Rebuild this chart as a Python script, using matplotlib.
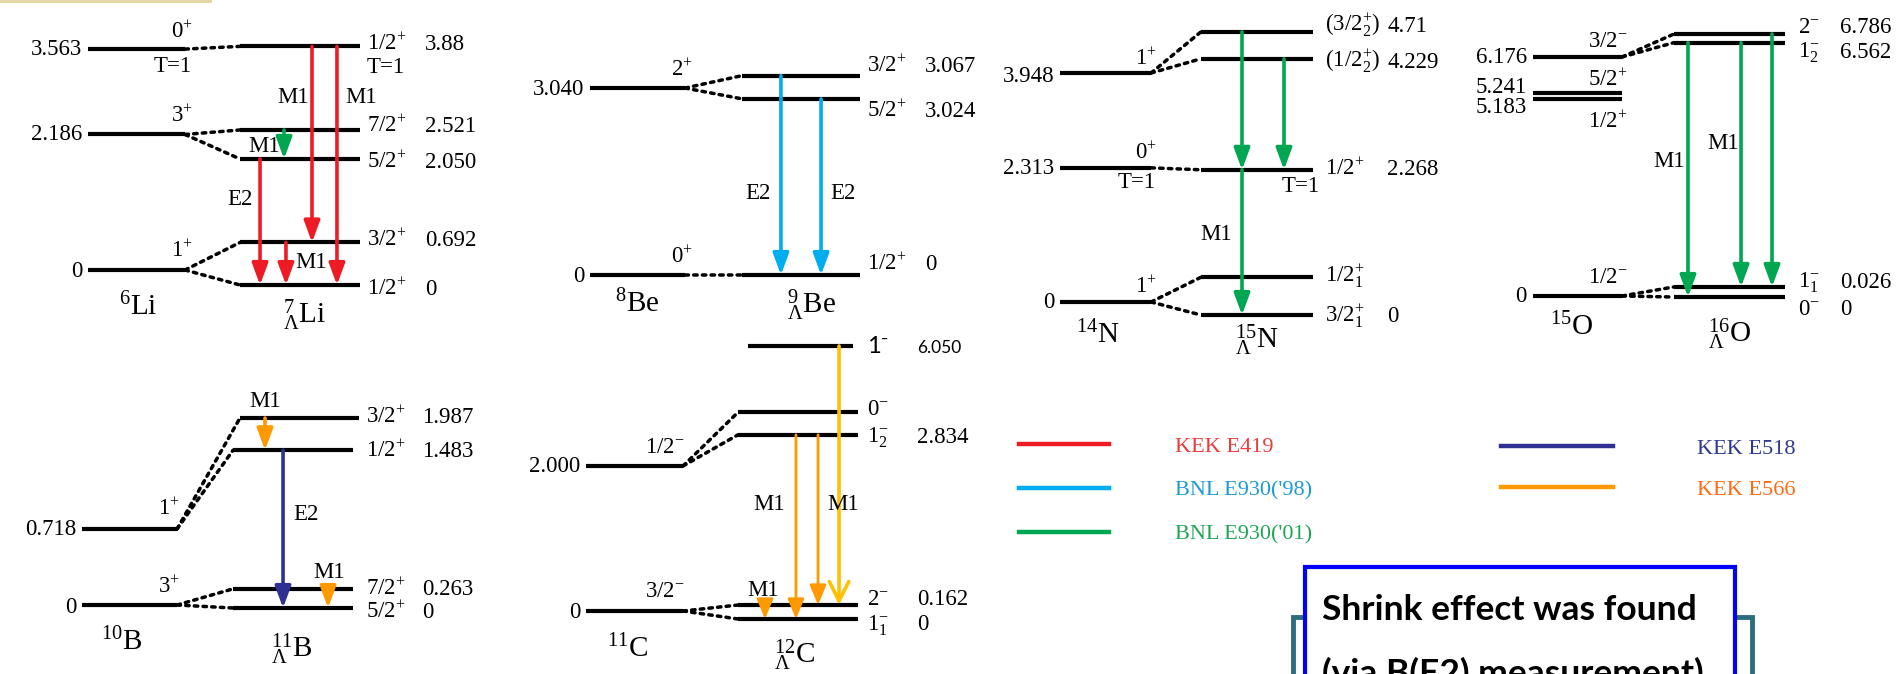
import matplotlib.pyplot as plt
from matplotlib.lines import Line2D
from matplotlib.patches import ConnectionPatch, Rectangle

plt.rcParams['font.family'] = 'Liberation Serif'
plt.rcParams['mathtext.fontset'] = 'custom'
plt.rcParams['mathtext.rm'] = 'Liberation Serif'
plt.rcParams['mathtext.it'] = 'Liberation Serif:italic'
plt.rcParams['mathtext.bf'] = 'Liberation Serif:bold'

W, H = 1901, 674
PT = 72 / 100          # points per pixel at dpi 100
FS = 16.5

# ---------------- data ----------------
# experiments shown in the legend
exp_keys = ['E419', 'E930_98', 'E930_01', 'E518', 'E566']
exp_names = ['KEK E419', "BNL E930('98)", "BNL E930('01)", 'KEK E518', 'KEK E566']

# 6Li -> 7_Lambda Li   (levels in MeV, hyper levels as drawn on the diagram)
li_core_E = [0.0, 2.186, 3.563]
li_core_txt = ['0', '2.186', '3.563']
li_core_J = ['1$^{+}$', '3$^{+}$', '0$^{+}$']
li_hyp_E = [0.0, 0.692, 2.050, 2.521, 3.88]
li_hyp_txt = ['0', '0.692', '2.050', '2.521', '3.88']
li_hyp_J = ['1/2$^{+}$', '3/2$^{+}$', '5/2$^{+}$', '7/2$^{+}$', '1/2$^{+}$']
li_links = [(0, 0), (0, 1), (1, 2), (1, 3), (2, 4)]
li_trans = [(2, 0, 'E419'), (3, 2, 'E930_01'), (1, 0, 'E419'), (4, 1, 'E419'), (4, 0, 'E419')]

# 8Be -> 9_Lambda Be
be_core_E = [0.0, 3.040]
be_core_txt = ['0', '3.040']
be_core_J = ['0$^{+}$', '2$^{+}$']
be_hyp_E = [0.0, 2.71, 3.067]
be_hyp_txt = ['0', '3.024', '3.067']
be_hyp_J = ['1/2$^{+}$', '5/2$^{+}$', '3/2$^{+}$']
be_links = [(0, 0), (1, 1), (1, 2)]
be_trans = [(2, 0, 'E930_98'), (1, 0, 'E930_98')]

# 14N -> 15_Lambda N
n_core_E = [0.0, 2.313, 3.948]
n_core_txt = ['0', '2.313', '3.948']
n_core_J = ['1$^{+}$', '0$^{+}$', '1$^{+}$']
n_hyp_E = [0.0, 0.63, 2.42, 4.27, 4.72]
n_hyp_txt = ['0', '', '2.268', '4.229', '4.71']
n_hyp_J = ['3/2$_{1}^{+}$', '1/2$_{1}^{+}$', '1/2$^{+}$', '(1/2$_{2}^{+}$)', '(3/2$_{2}^{+}$)']
n_links = [(0, 0), (0, 1), (1, 2), (2, 3), (2, 4)]
n_trans = [(4, 2, 'E930_01'), (2, 0, 'E930_01'), (3, 2, 'E930_01')]

# 15O -> 16_Lambda O
o_core_E = [0.0, 5.09, 5.241, 6.176]
o_core_txt = ['0', '5.183', '5.241', '6.176']
o_core_J = ['1/2$^{-}$', '1/2$^{+}$', '5/2$^{+}$', '3/2$^{-}$']
o_hyp_E = [0.0, 0.26, 6.562, 6.786]
o_hyp_txt = ['0', '0.026', '6.562', '6.786']
o_hyp_J = ['0$^{-}$', '1$_{1}^{-}$', '1$_{2}^{-}$', '2$^{-}$']
o_links = [(0, 0), (0, 1), (3, 2), (3, 3)]
o_trans = [(2, 0, 'E930_01'), (2, 1, 'E930_01'), (3, 1, 'E930_01')]

# 10B -> 11_Lambda B
b_core_E = [0.0, 0.718]
b_core_txt = ['0', '0.718']
b_core_J = ['3$^{+}$', '1$^{+}$']
b_hyp_E = [0.0, 0.20, 1.65, 1.987]
b_hyp_txt = ['0', '0.263', '1.483', '1.987']
b_hyp_J = ['5/2$^{+}$', '7/2$^{+}$', '1/2$^{+}$', '3/2$^{+}$']
b_links = [(0, 0), (0, 1), (1, 2), (1, 3)]
b_trans = [(3, 2, 'E566'), (2, 0, 'E518'), (1, 0, 'E566')]

# 11C -> 12_Lambda C
c_core_E = [0.0, 2.000]
c_core_txt = ['0', '2.000']
c_core_J = ['3/2$^{-}$', '1/2$^{-}$']
c_hyp_E = [0.0, 0.215, 2.834, 3.18, 4.2]
c_hyp_txt = ['0', '0.162', '2.834', '', '6.050']
c_hyp_J = ['1$_{1}^{-}$', '2$^{-}$', '1$_{2}^{-}$', '0$^{-}$', '1⁻']
c_links = [(0, 0), (0, 1), (1, 2), (1, 3)]
c_trans = [(1, 0, 'E566'), (2, 0, 'E566'), (2, 1, 'E566'), (4, 1, 'other')]

# ---------------- style / layout ----------------
line_colors = {'E419': '#ED1C24', 'E930_98': '#00AEEF', 'E930_01': '#00A651',
               'E518': '#2E3192', 'E566': '#FF9900', 'other': '#FFC000'}
text_colors = ['#EE3A3A', '#1C9AD6', '#1FA655', '#2E3A8C', '#FF6A13']

panels = [
    dict(cE=li_core_E, ct=li_core_txt, cJ=li_core_J, hE=li_hyp_E, ht=li_hyp_txt, hJ=li_hyp_J,
         links=li_links, trans=li_trans,
         core=(88, 185, 270, 62.0), hyp=(240, 360, 285, 61.5),
         c_e_dy=[7, 6, 6], c_j_dy=[-13, -12, -11], c_j_dx=8,
         h_dy=[10, 4, 9, 2, 4], h_j_dx=7, h_e_dx=65,
         arrow_x=[0.167, 0.367, 0.383, 0.6, 0.808]),
    dict(cE=be_core_E, ct=be_core_txt, cJ=be_core_J, hE=be_hyp_E, ht=be_hyp_txt, hJ=be_hyp_J,
         links=be_links, trans=be_trans,
         core=(590, 685, 275, 61.5), hyp=(742, 860, 275, 65.0),
         c_e_dy=[7, 7], c_j_dy=[-12, -12], c_j_dx=8,
         h_dy=[-5, 18, -4], h_j_dx=7, h_e_dx=65,
         arrow_x=[0.33, 0.67]),
    dict(cE=n_core_E, ct=n_core_txt, cJ=n_core_J, hE=n_hyp_E, ht=n_hyp_txt, hJ=n_hyp_J,
         links=n_links, trans=n_trans,
         core=(1060, 1151, 302, 58.0), hyp=(1201, 1313, 315, 60.0),
         c_e_dy=[6, 6, 9], c_j_dy=[-9, -9, -8], c_j_dx=6,
         h_dy=[7, 5, 5, 9, 0], h_j_dx=12, h_e_dx=74,
         arrow_x=[0.366, 0.366, 0.741]),
    dict(cE=o_core_E, ct=o_core_txt, cJ=o_core_J, hE=o_hyp_E, ht=o_hyp_txt, hJ=o_hyp_J,
         links=o_links, trans=o_trans,
         core=(1533, 1622, 296, 38.7), hyp=(1674, 1785, 297, 38.76),
         c_e_dy=[6, 14, 0, 6], c_j_dy=[-13, 29, -7, -10], c_j_dx=6,
         h_dy=[18, 1, 15, -1], h_j_dx=13, h_e_dx=55,
         arrow_x=[0.126, 0.604, 0.883]),
    dict(cE=b_core_E, ct=b_core_txt, cJ=b_core_J, hE=b_hyp_E, ht=b_hyp_txt, hJ=b_hyp_J,
         links=b_links, trans=b_trans,
         core=(82, 177, 605, 105.8), hyp=(233, 353, 608, 95.6),
         c_e_dy=[8, 6], c_j_dy=[-12, -14], c_j_dx=3,
         h_dy=[10, 6, 7, 5], h_j_dx=13, h_e_dx=69,
         arrow_x=[0.267, 0.417, 0.792], spans={3: (0.058, 1.05)}),
    dict(cE=c_core_E, ct=c_core_txt, cJ=c_core_J, hE=c_hyp_E, ht=c_hyp_txt, hJ=c_hyp_J,
         links=c_links, trans=c_trans,
         core=(586, 683, 611, 72.5), hyp=(738, 858, 619, 65.0),
         c_e_dy=[7, 6], c_j_dy=[-14, -13], c_j_dx=2,
         h_dy=[11, 0, 8, 3, 7], h_j_dx=9, h_e_dx=59,
         arrow_x=[0.225, 0.483, 0.667, 0.842], spans={4: (0.083, 0.958)}, sans={4}),
]

# transition multipolarity labels, T=1 labels and nucleus names (pixel positions, baseline)
mult_labels = [('M1', 277, 103), ('M1', 345, 103), ('M1', 248, 152), ('E2', 227, 205), ('M1', 295, 268),
               ('E2', 745, 199), ('E2', 830, 199),
               ('M1', 1200, 240),
               ('M1', 1653, 167), ('M1', 1707, 149),
               ('M1', 249, 407), ('E2', 293, 520), ('M1', 313, 578),
               ('M1', 753, 510), ('M1', 827, 510), ('M1', 747, 596)]
iso_labels = [('T=1', 192, 72, 'right'), ('T=1', 367, 73, 'left'),
              ('T=1', 1156, 188, 'right'), ('T=1', 1282, 192, 'left')]
nuclei = [(r'${}^{6}\mathrm{Li}$', 138, 315), (r'${}^{7}_{\Lambda}\mathrm{Li}$', 305, 323),
          (r'${}^{8}\mathrm{Be}$', 637, 312), (r'${}^{9}_{\Lambda}\mathrm{Be}$', 812, 313),
          (r'${}^{14}\mathrm{N}$', 1098, 343), (r'${}^{15}_{\Lambda}\mathrm{N}$', 1257, 348),
          (r'${}^{15}\mathrm{O}$', 1572, 335), (r'${}^{16}_{\Lambda}\mathrm{O}$', 1730, 342),
          (r'${}^{10}\mathrm{B}$', 122, 650), (r'${}^{11}_{\Lambda}\mathrm{B}$', 292, 657),
          (r'${}^{11}\mathrm{C}$', 628, 657), (r'${}^{12}_{\Lambda}\mathrm{C}$', 795, 663)]

fig = plt.figure(figsize=(W / 100, H / 100), dpi=100)
fig.patch.set_facecolor('white')


def make_axes(x0, x1, g, s):
    # axes spans the level line horizontally, full height; y in MeV
    ax = fig.add_axes([x0 / W, 0, (x1 - x0) / W, 1])
    ax.set_xlim(0, 1)
    ax.set_ylim(-(H - g) / s, g / s)
    ax.axis('off')
    return ax


def label(ax, txt, xy, dx, dy, ha, **kw):
    ax.annotate(txt, xy=xy, xytext=(dx * PT, -dy * PT), textcoords='offset points',
                ha=ha, va='baseline', fontsize=kw.pop('fontsize', FS),
                annotation_clip=False, **kw)


def ftext(x, y, s, **kw):
    kw.setdefault('fontsize', FS)
    kw.setdefault('va', 'baseline')
    fig.text(x / W, 1 - y / H, s, **kw)


for p in panels:
    axc = make_axes(*p['core'])
    axh = make_axes(*p['hyp'])
    spans = p.get('spans', {})
    sans = p.get('sans', set())

    for i, e in enumerate(p['cE']):
        axc.plot([0, 1], [e, e], color='k', lw=3, solid_capstyle='butt', clip_on=False)
        label(axc, p['ct'][i], (0, e), -6, p['c_e_dy'][i], 'right')
        label(axc, p['cJ'][i], (1, e), p['c_j_dx'], p['c_j_dy'][i], 'right')

    for i, e in enumerate(p['hE']):
        a, b = spans.get(i, (0, 1))
        axh.plot([a, b], [e, e], color='k', lw=3, solid_capstyle='butt', clip_on=False)
        if i in sans:
            label(axh, p['hJ'][i], (1, e), p['h_j_dx'], p['h_dy'][i], 'left',
                  fontsize=17, family=['Lato', 'DejaVu Sans'])
            label(axh, p['ht'][i], (1, e), p['h_e_dx'], p['h_dy'][i], 'left',
                  fontsize=12.5, family=['Lato', 'DejaVu Sans'])
        else:
            label(axh, p['hJ'][i], (1, e), p['h_j_dx'], p['h_dy'][i], 'left')
            label(axh, p['ht'][i], (1, e), p['h_e_dx'], p['h_dy'][i], 'left')

    for ci, hi in p['links']:
        a = spans.get(hi, (0, 1))[0]
        con = ConnectionPatch(xyA=(1, p['cE'][ci]), coordsA='data', axesA=axc,
                              xyB=(a, p['hE'][hi]), coordsB='data', axesB=axh,
                              color='k', lw=2.5, linestyle=(0, (1, 1.5)))
        fig.add_artist(con)

    for (hi, lo, key), x in zip(p['trans'], p['arrow_x']):
        if key == 'other':
            style, lw = '->,head_length=0.7,head_width=0.35', 2.6
        elif key == 'E566' and p is panels[5]:
            style, lw = '-|>,head_length=0.6,head_width=0.25', 2.0
        else:
            style, lw = '-|>,head_length=0.65,head_width=0.24', 2.6
        axh.annotate('', xy=(x, p['hE'][lo]), xytext=(x, p['hE'][hi]),
                     arrowprops=dict(arrowstyle=style, color=line_colors[key], lw=lw,
                                     shrinkA=0, shrinkB=0, mutation_scale=20),
                     annotation_clip=False)

for s, x, y in mult_labels:
    ftext(x, y, s, ha='left')
for s, x, y, ha in iso_labels:
    ftext(x, y, s, ha=ha)
for s, x, y in nuclei:
    ftext(x, y, s, ha='center', fontsize=21)

# legend, in two blocks as on the slide
handles = [Line2D([], [], color=line_colors[k], lw=3.2) for k in exp_keys]
leg1 = fig.legend(handles[:3], exp_names[:3], loc='upper left',
                  bbox_to_anchor=(1019 / W, 1 - 436 / H), frameon=False, fontsize=16,
                  handlelength=4.05, handletextpad=2.97, labelspacing=1.05,
                  borderpad=0, borderaxespad=0)
leg2 = fig.legend(handles[3:], exp_names[3:], loc='upper left',
                  bbox_to_anchor=(1501 / W, 1 - 438 / H), frameon=False, fontsize=16,
                  handlelength=5.04, handletextpad=3.8, labelspacing=0.95,
                  borderpad=0, borderaxespad=0)
for t, c in zip(leg1.get_texts() + leg2.get_texts(), text_colors):
    t.set_color(c)

# callout box at bottom right (cut by the picture edge)
fig.add_artist(Rectangle((1293 / W, -0.1), (1752 - 1293) / W, (H - 617) / H + 0.1,
                         transform=fig.transFigure, fill=False, ec='#2D6E7E', lw=3.5))
fig.add_artist(Rectangle((1305 / W, -0.1), (1735 - 1305) / W, (H - 567) / H + 0.1,
                         transform=fig.transFigure, fc='white', ec='#0000FF', lw=3))
ftext(1322, 620, 'Shrink effect was found', ha='left', fontsize=25.5,
      family='Lato', weight='bold')
ftext(1322, 684, '(via B(E2) measurement)', ha='left', fontsize=25.5,
      family='Lato', weight='bold')

# thin beige strip at the top-left corner
fig.add_artist(Rectangle((0, 1 - 3 / H), 212 / W, 3 / H, transform=fig.transFigure,
                         fc='#E6D6A6', ec='none'))

fig.savefig('out.png', dpi=100)
